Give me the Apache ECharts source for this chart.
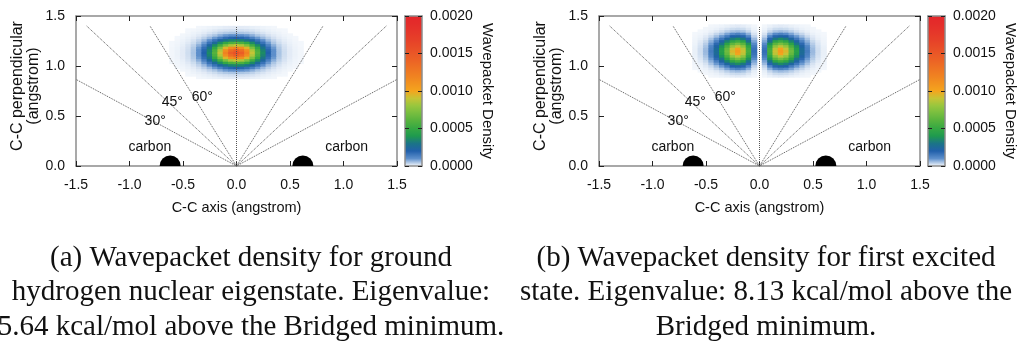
<!DOCTYPE html>
<html>
<head>
<meta charset="utf-8">
<script src="https://cdn.jsdelivr.net/npm/echarts/dist/echarts.min.js"></script>
<style>
  html, body { margin: 0; padding: 0; background: #ffffff; }
  #chart { width: 1019px; height: 348px; }
</style>
</head>
<body>
<div id="chart"></div>
<script>
// ---------------------------------------------------------------------------
// Data
// ---------------------------------------------------------------------------

// Axis ranges and tick steps (angstrom / density)
const X_RANGE = [-1.5, 1.5];
const Y_RANGE = [0, 1.5];
const AXIS_STEP = 0.5;
const DENSITY_RANGE = [0, 0.002];
const DENSITY_STEP = 0.0005;

// Density grids are stored in units of 1e-4
const DENSITY_UNIT = 1e-4;

// Column centres of the density grid (C-C axis, angstrom)
const GRID_X = [-0.60, -0.55, -0.50, -0.45, -0.40, -0.35, -0.30, -0.25, -0.20, -0.15, -0.10, -0.05,
                0.00, 0.05, 0.10, 0.15, 0.20, 0.25, 0.30, 0.35, 0.40, 0.45, 0.50, 0.55, 0.60];
const CELL_W = 0.05;
const CELL_H = 0.025;

// Row centres (C-C perpendicular, angstrom)
const ROW_Y_GROUND = [0.885, 0.910, 0.935, 0.960, 0.985, 1.010, 1.035, 1.060, 1.085, 1.110, 1.135,
                      1.160, 1.185, 1.210, 1.235, 1.260, 1.285, 1.310, 1.335, 1.360, 1.385];
const ROW_Y_EXCITED = [0.900, 0.925, 0.950, 0.975, 1.000, 1.025, 1.050, 1.075, 1.100, 1.125, 1.150,
                       1.175, 1.200, 1.225, 1.250, 1.275, 1.300, 1.325, 1.350, 1.375, 1.400];

// Ground eigenstate density (x 1e-4), one row per ROW_Y_GROUND entry
const DENSITY_GROUND = [
  [0,0,0,0,0,0.02,0.03,0.05,0.07,0.09,0.11,0.12,0.12,0.12,0.11,0.09,0.07,0.05,0.03,0.02,0,0,0,0,0],
  [0,0,0,0.01,0.02,0.04,0.07,0.1,0.14,0.19,0.22,0.24,0.25,0.24,0.22,0.19,0.14,0.1,0.07,0.04,0.02,0.01,0,0,0],
  [0,0,0,0.02,0.05,0.08,0.12,0.19,0.26,0.36,0.44,0.48,0.5,0.48,0.44,0.36,0.26,0.19,0.12,0.08,0.05,0.02,0,0,0],
  [0,0,0.02,0.04,0.08,0.13,0.22,0.35,0.48,0.7,0.9,1,1,1,0.9,0.7,0.48,0.35,0.22,0.13,0.08,0.04,0.02,0,0],
  [0,0.01,0.03,0.07,0.12,0.22,0.38,0.6,0.9,1.3,1.7,1.9,2,1.9,1.7,1.3,0.9,0.6,0.38,0.22,0.12,0.07,0.03,0.01,0],
  [0,0.02,0.05,0.1,0.19,0.35,0.6,1,1.6,2.3,3,3.4,3.6,3.4,3,2.3,1.6,1,0.6,0.35,0.19,0.1,0.05,0.02,0],
  [0.01,0.03,0.07,0.14,0.26,0.48,0.9,1.6,2.5,3.6,4.9,5.7,6,5.7,4.9,3.6,2.5,1.6,0.9,0.48,0.26,0.14,0.07,0.03,0.01],
  [0.01,0.04,0.09,0.19,0.36,0.7,1.3,2.3,3.6,5.4,7.2,8.5,9,8.5,7.2,5.4,3.6,2.3,1.3,0.7,0.36,0.19,0.09,0.04,0.01],
  [0.02,0.05,0.11,0.22,0.44,0.9,1.7,3,4.9,7.2,9.5,11.3,12,11.3,9.5,7.2,4.9,3,1.7,0.9,0.44,0.22,0.11,0.05,0.02],
  [0.02,0.06,0.12,0.24,0.48,1,1.9,3.4,5.7,8.5,11.3,13.5,14.5,13.5,11.3,8.5,5.7,3.4,1.9,1,0.48,0.24,0.12,0.06,0.02],
  [0.02,0.06,0.12,0.25,0.5,1,2,3.6,6,9,12,14.5,15.5,14.5,12,9,6,3.6,2,1,0.5,0.25,0.12,0.06,0.02],
  [0.02,0.06,0.12,0.24,0.48,1,1.9,3.4,5.7,8.5,11.3,13.5,14.5,13.5,11.3,8.5,5.7,3.4,1.9,1,0.48,0.24,0.12,0.06,0.02],
  [0.02,0.05,0.11,0.22,0.44,0.9,1.7,3,4.9,7.2,9.5,11.3,12,11.3,9.5,7.2,4.9,3,1.7,0.9,0.44,0.22,0.11,0.05,0.02],
  [0.01,0.04,0.09,0.19,0.36,0.7,1.3,2.3,3.6,5.4,7.2,8.5,9,8.5,7.2,5.4,3.6,2.3,1.3,0.7,0.36,0.19,0.09,0.04,0.01],
  [0.01,0.03,0.07,0.14,0.26,0.48,0.9,1.6,2.5,3.6,4.9,5.7,6,5.7,4.9,3.6,2.5,1.6,0.9,0.48,0.26,0.14,0.07,0.03,0.01],
  [0,0.02,0.05,0.1,0.19,0.35,0.6,1,1.6,2.3,3,3.4,3.6,3.4,3,2.3,1.6,1,0.6,0.35,0.19,0.1,0.05,0.02,0],
  [0,0.01,0.03,0.07,0.12,0.22,0.38,0.6,0.9,1.3,1.7,1.9,2,1.9,1.7,1.3,0.9,0.6,0.38,0.22,0.12,0.07,0.03,0.01,0],
  [0,0,0.02,0.04,0.08,0.13,0.22,0.35,0.48,0.7,0.9,1,1,1,0.9,0.7,0.48,0.35,0.22,0.13,0.08,0.04,0.02,0,0],
  [0,0,0,0.02,0.05,0.08,0.12,0.19,0.26,0.36,0.44,0.48,0.5,0.48,0.44,0.36,0.26,0.19,0.12,0.08,0.05,0.02,0,0,0],
  [0,0,0,0.01,0.02,0.04,0.07,0.1,0.14,0.19,0.22,0.24,0.25,0.24,0.22,0.19,0.14,0.1,0.07,0.04,0.02,0.01,0,0,0],
  [0,0,0,0,0,0.02,0.03,0.05,0.07,0.09,0.11,0.12,0.12,0.12,0.11,0.09,0.07,0.05,0.03,0.02,0,0,0,0,0]
];

// First excited state density (x 1e-4), one row per ROW_Y_EXCITED entry
const DENSITY_EXCITED = [
  [0,0,0,0.02,0.03,0.05,0.08,0.11,0.13,0.11,0.07,0.02,0,0.02,0.07,0.11,0.13,0.11,0.08,0.05,0.03,0.02,0,0,0],
  [0,0,0.02,0.04,0.07,0.12,0.19,0.26,0.29,0.26,0.16,0.05,0,0.05,0.16,0.26,0.29,0.26,0.19,0.12,0.07,0.04,0.02,0,0],
  [0,0.01,0.03,0.08,0.14,0.24,0.38,0.51,0.58,0.5,0.31,0.09,0,0.09,0.31,0.5,0.58,0.51,0.38,0.24,0.14,0.08,0.03,0.01,0],
  [0.01,0.03,0.07,0.16,0.32,0.5,0.8,1.1,1.3,1.1,0.7,0.2,0,0.2,0.7,1.1,1.3,1.1,0.8,0.5,0.32,0.16,0.07,0.03,0.01],
  [0.02,0.05,0.13,0.29,0.55,0.9,1.4,2,2.2,1.9,1.2,0.35,0,0.35,1.2,1.9,2.2,2,1.4,0.9,0.55,0.29,0.13,0.05,0.02],
  [0.03,0.08,0.2,0.5,0.9,1.5,2.3,3.2,3.6,3.1,1.9,0.6,0,0.6,1.9,3.1,3.6,3.2,2.3,1.5,0.9,0.5,0.2,0.08,0.03],
  [0.04,0.13,0.3,0.7,1.3,2.2,3.4,4.7,5.3,4.6,2.8,0.8,0,0.8,2.8,4.6,5.3,4.7,3.4,2.2,1.3,0.7,0.3,0.13,0.04],
  [0.05,0.17,0.41,0.9,1.8,3,4.6,6.3,7.1,6.2,3.8,1.1,0,1.1,3.8,6.2,7.1,6.3,4.6,3,1.8,0.9,0.41,0.17,0.05],
  [0.07,0.21,0.5,1.2,2.2,3.7,5.7,7.9,8.8,7.7,4.7,1.4,0,1.4,4.7,7.7,8.8,7.9,5.7,3.7,2.2,1.2,0.5,0.21,0.07],
  [0.08,0.24,0.57,1.3,2.5,4.2,6.5,9,10.1,8.8,5.3,1.6,0,1.6,5.3,8.8,10.1,9,6.5,4.2,2.5,1.3,0.57,0.24,0.08],
  [0.08,0.25,0.6,1.4,2.6,4.4,6.8,9.4,10.5,9.1,5.6,1.7,0,1.7,5.6,9.1,10.5,9.4,6.8,4.4,2.6,1.4,0.6,0.25,0.08],
  [0.08,0.24,0.57,1.3,2.5,4.2,6.5,9,10.1,8.8,5.3,1.6,0,1.6,5.3,8.8,10.1,9,6.5,4.2,2.5,1.3,0.57,0.24,0.08],
  [0.07,0.21,0.5,1.2,2.2,3.7,5.7,7.9,8.8,7.7,4.7,1.4,0,1.4,4.7,7.7,8.8,7.9,5.7,3.7,2.2,1.2,0.5,0.21,0.07],
  [0.05,0.17,0.41,0.9,1.8,3,4.6,6.3,7.1,6.2,3.8,1.1,0,1.1,3.8,6.2,7.1,6.3,4.6,3,1.8,0.9,0.41,0.17,0.05],
  [0.04,0.13,0.3,0.7,1.3,2.2,3.4,4.7,5.3,4.6,2.8,0.8,0,0.8,2.8,4.6,5.3,4.7,3.4,2.2,1.3,0.7,0.3,0.13,0.04],
  [0.03,0.08,0.2,0.5,0.9,1.5,2.3,3.2,3.6,3.1,1.9,0.6,0,0.6,1.9,3.1,3.6,3.2,2.3,1.5,0.9,0.5,0.2,0.08,0.03],
  [0.02,0.05,0.13,0.29,0.55,0.9,1.4,2,2.2,1.9,1.2,0.35,0,0.35,1.2,1.9,2.2,2,1.4,0.9,0.55,0.29,0.13,0.05,0.02],
  [0.01,0.03,0.07,0.16,0.32,0.5,0.8,1.1,1.3,1.1,0.7,0.2,0,0.2,0.7,1.1,1.3,1.1,0.8,0.5,0.32,0.16,0.07,0.03,0.01],
  [0,0.01,0.03,0.08,0.14,0.24,0.38,0.51,0.58,0.5,0.31,0.09,0,0.09,0.31,0.5,0.58,0.51,0.38,0.24,0.14,0.08,0.03,0.01,0],
  [0,0,0.02,0.04,0.07,0.12,0.19,0.26,0.29,0.26,0.16,0.05,0,0.05,0.16,0.26,0.29,0.26,0.19,0.12,0.07,0.04,0.02,0,0],
  [0,0,0,0.02,0.03,0.05,0.08,0.11,0.13,0.11,0.07,0.02,0,0.02,0.07,0.11,0.13,0.11,0.08,0.05,0.03,0.02,0,0,0]
];

// Reference rays from the C-C midpoint (degrees from the C-C axis)
const RAY_ANGLES = [30, 45, 60, 90, 120, 135, 150];
const RAY_TOP = 1.4;

// Carbon atom positions on the C-C axis (angstrom)
const CARBON_X = [-0.62, 0.62];

// Text annotations inside each panel: [x, y, text]
const ANNOTATIONS = [
  [-0.76, 0.445, '30°'],
  [-0.60, 0.64, '45°'],
  [-0.32, 0.69, '60°'],
  [-0.81, 0.185, 'carbon'],
  [1.03, 0.185, 'carbon']
];

// Colour scale, evenly spaced from 0.0000 to 0.0020
const DENSITY_COLORS = [
  '#f5f8fc', '#5d8fcb', '#2160ab', '#1b7487', '#1f9a4e', '#35a843', '#55b23e',
  '#75bd3f', '#97c63e', '#c5c436', '#f4a51e', '#f2931f', '#f08221', '#ee7323',
  '#ec6425', '#ea5727', '#e84a28', '#e63f29', '#e5352a', '#e42c2a', '#e3262a'
];

const CAPTIONS = [
  '(a) Wavepacket density for ground\nhydrogen nuclear eigenstate. Eigenvalue:\n5.64 kcal/mol above the Bridged minimum.',
  '(b) Wavepacket density for first excited\nstate. Eigenvalue: 8.13 kcal/mol above the\nBridged minimum.'
];

// ---------------------------------------------------------------------------
// Layout and styles
// ---------------------------------------------------------------------------
const SANS = '"Liberation Sans", Arial, Helvetica, sans-serif';
const SERIF = '"Liberation Serif", "Times New Roman", serif';
const FRAME = '#8c8c8c';
const INK = '#111111';
const ATOM_RADIUS = 10.5;

const PANELS = [
  { plot: { left: 76, top: 16, width: 321, height: 150 },
    bar:  { left: 405, top: 16, width: 17, height: 150 },
    rowsY: ROW_Y_GROUND, density: DENSITY_GROUND, captionX: 251 },
  { plot: { left: 599, top: 16, width: 321, height: 150 },
    bar:  { left: 928, top: 16, width: 17, height: 150 },
    rowsY: ROW_Y_EXCITED, density: DENSITY_EXCITED, captionX: 766 }
];

function densityCells(rowsY, rows) {
  const out = [];
  rows.forEach(function (row, i) {
    row.forEach(function (v, j) {
      if (v > 0) out.push([GRID_X[j], rowsY[i], v * DENSITY_UNIT]);
    });
  });
  return out;
}

function rayEnd(deg) {
  const t = deg * Math.PI / 180;
  const c = Math.cos(t), s = Math.sin(t);
  let len = RAY_TOP / s;
  if (Math.abs(c) * len > X_RANGE[1]) len = X_RANGE[1] / Math.abs(c);
  return [Math.abs(c) < 1e-9 ? 0 : c * len, s * len];
}

// One density cell, placed through the cartesian scales
function renderCell(params, api) {
  const x = api.value(0), y = api.value(1);
  const p0 = api.coord([x - CELL_W / 2, y + CELL_H / 2]);
  const p1 = api.coord([x + CELL_W / 2, y - CELL_H / 2]);
  return {
    type: 'rect',
    shape: { x: p0[0] - 0.4, y: p0[1] - 0.4, width: p1[0] - p0[0] + 0.8, height: p1[1] - p0[1] + 0.8 },
    style: { fill: api.visual('color') }
  };
}

// Carbon atom: upper half disc sitting on the C-C axis
function renderAtom(params, api) {
  const c = api.coord([api.value(0), api.value(1)]);
  return {
    type: 'sector',
    shape: { cx: c[0], cy: c[1], r0: 0, r: ATOM_RADIUS, startAngle: Math.PI, endAngle: 2 * Math.PI, clockwise: true },
    style: { fill: '#000000' }
  };
}

// Free text placed at a data position
function renderNote(params, api) {
  const c = api.coord([api.value(0), api.value(1)]);
  return {
    type: 'text', x: c[0], y: c[1],
    style: { text: ANNOTATIONS[params.dataIndex][2], fill: INK, fontSize: 14, fontFamily: SANS,
             align: 'center', verticalAlign: 'middle' }
  };
}

const grids = [], xAxes = [], yAxes = [], series = [], visualMaps = [], titles = [];

const tickStyle = { show: true, inside: true, length: 5, lineStyle: { color: '#222', width: 1 } };
const frameLine = { show: true, onZero: false, lineStyle: { color: FRAME, width: 1.5 } };

PANELS.forEach(function (p) { grids.push(Object.assign({ containLabel: false }, p.plot)); });
PANELS.forEach(function (p) { grids.push(Object.assign({ containLabel: false }, p.bar)); });

PANELS.forEach(function (p, k) {
  const g = k;
  xAxes.push({
    gridIndex: g, type: 'value', position: 'bottom', min: X_RANGE[0], max: X_RANGE[1], interval: AXIS_STEP,
    axisLine: frameLine, axisTick: tickStyle, splitLine: { show: false },
    axisLabel: { color: INK, fontSize: 14, fontFamily: SANS, margin: 12, formatter: function (v) { return v.toFixed(1); } },
    name: 'C-C axis (angstrom)', nameLocation: 'middle', nameGap: 34,
    nameTextStyle: { color: INK, fontSize: 14.5, fontFamily: SANS }
  });
  xAxes.push({
    gridIndex: g, type: 'value', position: 'top', min: X_RANGE[0], max: X_RANGE[1], interval: AXIS_STEP,
    axisLine: frameLine, axisTick: tickStyle, axisLabel: { show: false }, splitLine: { show: false }
  });
  yAxes.push({
    gridIndex: g, type: 'value', position: 'left', min: Y_RANGE[0], max: Y_RANGE[1], interval: AXIS_STEP,
    axisLine: frameLine, axisTick: tickStyle, splitLine: { show: false },
    axisLabel: { color: INK, fontSize: 14, fontFamily: SANS, margin: 11, formatter: function (v) { return v.toFixed(1); } },
    name: 'C-C perpendicular\n(angstrom)', nameLocation: 'middle', nameGap: 32, nameRotate: 90,
    nameTextStyle: { color: INK, fontSize: 16, fontFamily: SANS, lineHeight: 16, padding: [0, 0, 0, 10] }
  });
  yAxes.push({
    gridIndex: g, type: 'value', position: 'right', min: Y_RANGE[0], max: Y_RANGE[1], interval: AXIS_STEP,
    axisLine: frameLine, axisTick: tickStyle, axisLabel: { show: false }, splitLine: { show: false }
  });
});

PANELS.forEach(function (p, k) {
  const g = PANELS.length + k;
  ['bottom', 'top'].forEach(function (pos) {
    xAxes.push({
      gridIndex: g, type: 'value', position: pos, min: 0, max: 1, z: 10,
      axisLine: frameLine, axisTick: { show: false }, axisLabel: { show: false }, splitLine: { show: false }
    });
  });
  const cbTick = { show: true, inside: true, length: 4, lineStyle: { color: '#222', width: 1 } };
  yAxes.push({
    gridIndex: g, type: 'value', position: 'left', min: DENSITY_RANGE[0], max: DENSITY_RANGE[1], interval: DENSITY_STEP, z: 10,
    axisLine: frameLine, axisTick: cbTick, axisLabel: { show: false }, splitLine: { show: false }
  });
  yAxes.push({
    gridIndex: g, type: 'value', position: 'right', min: DENSITY_RANGE[0], max: DENSITY_RANGE[1], interval: DENSITY_STEP, z: 10,
    axisLine: frameLine, axisTick: cbTick, splitLine: { show: false },
    axisLabel: { color: INK, fontSize: 14, fontFamily: SANS, margin: 8, formatter: function (v) { return v.toFixed(4); } },
    name: 'Wavepacket Density', nameLocation: 'middle', nameGap: 58, nameRotate: -90,
    nameTextStyle: { color: INK, fontSize: 15, fontFamily: SANS }
  });
});

// Density maps
PANELS.forEach(function (p, k) {
  series.push({
    type: 'custom', name: 'density-' + k, xAxisIndex: 2 * k, yAxisIndex: 2 * k,
    data: densityCells(p.rowsY, p.density), renderItem: renderCell,
    encode: { x: 0, y: 1 }, silent: true, z: 1, clip: true
  });
});
// Reference rays
PANELS.forEach(function (p, k) {
  series.push({
    type: 'lines', coordinateSystem: 'cartesian2d', xAxisIndex: 2 * k, yAxisIndex: 2 * k,
    data: RAY_ANGLES.map(function (a) { return { coords: [[0, 0], rayEnd(a)] }; }),
    lineStyle: { type: 'dotted', color: '#555555', width: 1, opacity: 1 },
    silent: true, z: 3
  });
});
// Carbon atoms
PANELS.forEach(function (p, k) {
  series.push({
    type: 'custom', xAxisIndex: 2 * k, yAxisIndex: 2 * k,
    data: CARBON_X.map(function (x) { return [x, 0]; }),
    renderItem: renderAtom, encode: { x: 0, y: 1 }, silent: true, z: 4
  });
});
// Annotations
PANELS.forEach(function (p, k) {
  series.push({
    type: 'custom', xAxisIndex: 2 * k, yAxisIndex: 2 * k,
    data: ANNOTATIONS.map(function (a) { return [a[0], a[1]]; }),
    renderItem: renderNote, encode: { x: 0, y: 1 }, silent: true, z: 5
  });
});

PANELS.forEach(function (p, k) {
  visualMaps.push({
    type: 'continuous', seriesIndex: k, dimension: 2,
    min: DENSITY_RANGE[0], max: DENSITY_RANGE[1],
    inRange: { color: DENSITY_COLORS },
    calculable: false, hoverLink: false, realtime: false,
    left: p.bar.left, top: p.bar.top, itemWidth: p.bar.width, itemHeight: p.bar.height,
    padding: 0, text: null, orient: 'vertical'
  });
  titles.push({
    text: CAPTIONS[k], left: p.captionX, top: 241, textAlign: 'center', padding: 0,
    textStyle: { fontFamily: SERIF, fontSize: 29, fontWeight: 'normal', color: INK, lineHeight: 34.5 }
  });
});

const chart = echarts.init(document.getElementById('chart'), null, { renderer: 'canvas' });
chart.setOption({
  animation: false,
  backgroundColor: '#ffffff',
  textStyle: { fontFamily: SANS },
  title: titles,
  grid: grids,
  xAxis: xAxes,
  yAxis: yAxes,
  visualMap: visualMaps,
  series: series
});
</script>
</body>
</html>
